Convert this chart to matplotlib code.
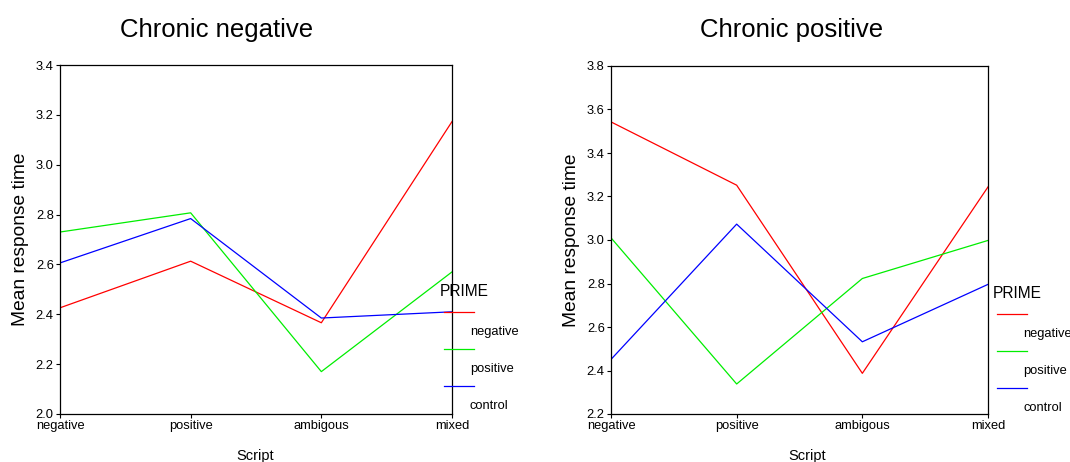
import matplotlib
matplotlib.use("Agg")
import matplotlib.pyplot as plt
from matplotlib.lines import Line2D

plt.rcParams['font.family'] = ['Liberation Sans', 'DejaVu Sans']

scripts = ["negative", "positive", "ambigous", "mixed"]
primes = ["negative", "positive", "control"]
colors = ["#ff0000", "#00ee00", "#0000ff"]

# Chronic negative
neg_negative = [2.426, 2.613, 2.366, 3.173]
neg_positive = [2.73, 2.807, 2.17, 2.57]
neg_control = [2.606, 2.784, 2.385, 2.41]

# Chronic positive
pos_negative = [3.543, 3.252, 2.387, 3.244]
pos_positive = [3.01, 2.338, 2.823, 2.998]
pos_control = [2.451, 3.073, 2.532, 2.796]

fig = plt.figure(figsize=(10.7, 4.62), dpi=100)
W, H = 1070, 462

def px_axes(x0, y0, x1, y1):
    return fig.add_axes([x0 / W, 1 - y1 / H, (x1 - x0) / W, (y1 - y0) / H])

panels = [
    dict(title="Chronic negative", data=[neg_negative, neg_positive, neg_control],
         box=(60, 65, 452, 414), ylim=(2.0, 3.4), yticks=[2.0, 2.2, 2.4, 2.6, 2.8, 3.0, 3.2, 3.4],
         leg_x=440, leg_y=292, title_x=217, xlab_x=255),
    dict(title="Chronic positive", data=[pos_negative, pos_positive, pos_control],
         box=(611, 66, 988, 414), ylim=(2.2, 3.8), yticks=[2.2, 2.4, 2.6, 2.8, 3.0, 3.2, 3.4, 3.6, 3.8],
         leg_x=993, leg_y=294, title_x=792, xlab_x=807),
]

for p in panels:
    x0, y0, x1, y1 = p["box"]
    ax = px_axes(x0, y0, x1, y1)
    xs = list(range(len(scripts)))
    for series, c in zip(p["data"], colors):
        ax.plot(xs, series, color=c, lw=0.9)
    ax.set_xlim(0, len(scripts) - 1)
    ax.set_ylim(*p["ylim"])
    ax.set_yticks(p["yticks"])
    ax.set_yticklabels([f"{v:.1f}" for v in p["yticks"]], fontsize=9.3)
    ax.set_xticks(xs)
    ax.set_xticklabels(scripts, fontsize=9.3)
    ax.tick_params(direction="out", length=3, width=0.8, pad=1.5, colors="black")
    for s in ax.spines.values():
        s.set_linewidth(0.9)
    ax.set_ylabel("Mean response time", fontsize=13.8, labelpad=5)
    fig.text(p["title_x"] / W, 1 - 30 / H, p["title"], fontsize=18.5, ha="center", va="center")
    fig.text(p["xlab_x"] / W, 1 - 456 / H, "Script", fontsize=10.5, ha="center", va="center")

    # legend
    lx, ly = p["leg_x"], p["leg_y"]
    fig.text(lx / W, 1 - ly / H, "PRIME", fontsize=11.2, ha="left", va="center")
    for i, (name, c) in enumerate(zip(primes, colors)):
        yl = ly + 20 + i * 37
        fig.add_artist(Line2D([(lx + 4) / W, (lx + 34) / W], [1 - yl / H, 1 - yl / H],
                              color=c, lw=0.9, transform=fig.transFigure))
        fig.text((lx + 30) / W, 1 - (yl + 20) / H, name, fontsize=9.3, ha="left", va="center")

fig.savefig("out.png", dpi=100)
